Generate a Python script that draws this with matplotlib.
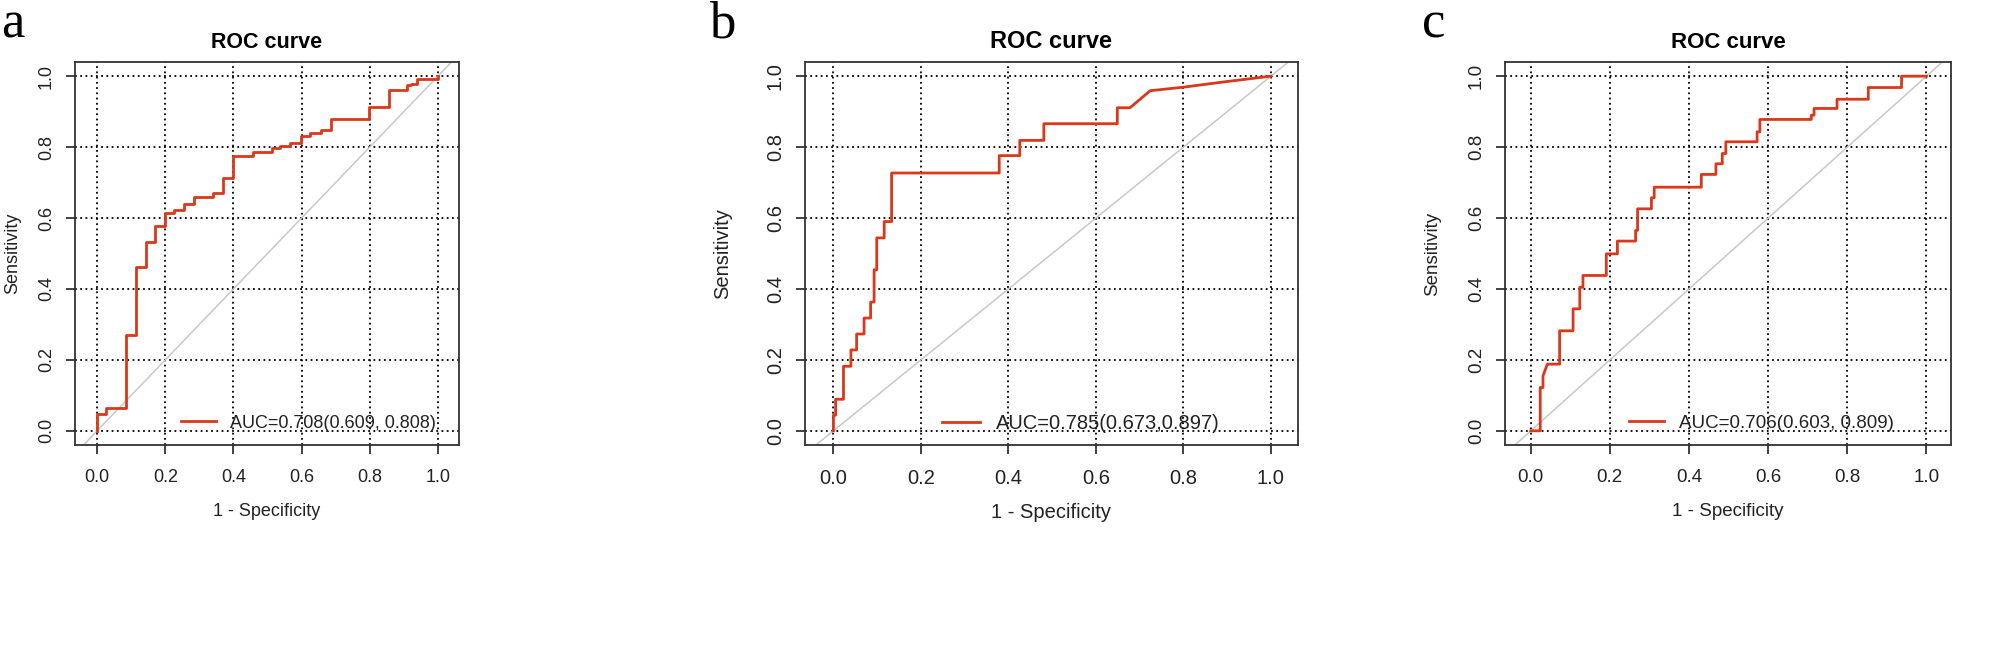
import matplotlib
matplotlib.use("Agg")
import matplotlib.pyplot as plt

plt.rcParams['font.family'] = ['Liberation Sans', 'DejaVu Sans']

# ROC points (1 - specificity, sensitivity)
fpr_a = [0.0, 0.0, 0.027, 0.027, 0.084, 0.084, 0.113, 0.113, 0.142, 0.142, 0.171, 0.171,
         0.198, 0.198, 0.226, 0.226, 0.256, 0.256, 0.285, 0.285, 0.341, 0.341, 0.369, 0.369,
         0.398, 0.398, 0.456, 0.456, 0.512, 0.512, 0.537, 0.537, 0.566, 0.566, 0.598, 0.598,
         0.626, 0.626, 0.656, 0.656, 0.685, 0.685, 0.798, 0.798, 0.856, 0.856, 0.910, 0.910,
         0.922, 0.922, 0.940, 0.940, 1.0, 1.0]
tpr_a = [0.0, 0.047, 0.047, 0.064, 0.064, 0.270, 0.270, 0.461, 0.461, 0.532, 0.532, 0.577,
         0.577, 0.614, 0.614, 0.623, 0.623, 0.640, 0.640, 0.659, 0.659, 0.670, 0.670, 0.714,
         0.714, 0.776, 0.776, 0.785, 0.785, 0.797, 0.797, 0.804, 0.804, 0.812, 0.812, 0.830,
         0.830, 0.841, 0.841, 0.847, 0.847, 0.878, 0.878, 0.913, 0.913, 0.960, 0.960, 0.975,
         0.975, 0.979, 0.979, 0.993, 0.993, 1.0]

fpr_b = [0.0, 0.0, 0.005, 0.005, 0.023, 0.023, 0.040, 0.040, 0.053, 0.053, 0.070, 0.070,
         0.085, 0.085, 0.093, 0.093, 0.099, 0.099, 0.116, 0.116, 0.133, 0.133, 0.379, 0.379,
         0.426, 0.426, 0.481, 0.481, 0.649, 0.649, 0.678, 0.724, 0.80, 0.90, 1.0]
tpr_b = [0.0, 0.044, 0.044, 0.089, 0.089, 0.182, 0.182, 0.228, 0.228, 0.273, 0.273, 0.318,
         0.318, 0.363, 0.363, 0.454, 0.454, 0.544, 0.544, 0.590, 0.590, 0.727, 0.727, 0.776,
         0.776, 0.819, 0.819, 0.866, 0.866, 0.911, 0.911, 0.959, 0.969, 0.985, 1.0]

fpr_c = [0.0, 0.024, 0.024, 0.031, 0.031, 0.036, 0.042, 0.073, 0.073, 0.107, 0.107, 0.124,
         0.124, 0.132, 0.132, 0.191, 0.191, 0.219, 0.219, 0.265, 0.265, 0.270, 0.270, 0.305,
         0.305, 0.312, 0.312, 0.431, 0.431, 0.468, 0.468, 0.484, 0.484, 0.493, 0.493, 0.572,
         0.572, 0.579, 0.579, 0.709, 0.709, 0.716, 0.716, 0.774, 0.774, 0.853, 0.853, 0.937,
         0.937, 1.0]
tpr_c = [0.0, 0.0, 0.122, 0.122, 0.155, 0.170, 0.188, 0.188, 0.282, 0.282, 0.344, 0.344,
         0.405, 0.405, 0.438, 0.438, 0.499, 0.499, 0.535, 0.535, 0.565, 0.565, 0.626, 0.626,
         0.657, 0.657, 0.687, 0.687, 0.723, 0.723, 0.753, 0.753, 0.782, 0.782, 0.815, 0.815,
         0.843, 0.843, 0.878, 0.878, 0.890, 0.890, 0.909, 0.909, 0.935, 0.935, 0.968, 0.968,
         1.0, 1.0]

auc_labels = ['AUC=0.708(0.609, 0.808)', 'AUC=0.785(0.673,0.897)', 'AUC=0.706(0.603, 0.809)']
panel_letters = ['a', 'b', 'c']
ticks = [0.0, 0.2, 0.4, 0.6, 0.8, 1.0]

W, H = 2008, 645
fig = plt.figure(figsize=(W / 100, H / 100), dpi=100)

# axes boxes in pixels: left, right (top 62, bottom 445)
boxes = [(75, 459), (805, 1298), (1505, 1951)]
ylab_x = [13, 723, 1433]
letter_x = [1, 709, 1422]
# the panels in the source are stretched differently, so text size differs a bit
txt_size = [13, 14.5, 13.5]
title_size = [15.5, 17, 16]
curves = [(fpr_a, tpr_a), (fpr_b, tpr_b), (fpr_c, tpr_c)]
red = '#d9381b'

for i in range(3):
    l, r = boxes[i]
    fs = txt_size[i]
    ax = fig.add_axes([l / W, 1 - 445 / H, (r - l) / W, (445 - 62) / H])
    ax.set_xlim(-0.065, 1.062)
    ax.set_ylim(-0.04, 1.04)
    for t in ticks:
        ax.axvline(t, color='black', ls=(0, (1, 1.9)), lw=1.3, zorder=1)
        ax.axhline(t, color='black', ls=(0, (1, 1.9)), lw=1.3, zorder=1)
    ax.axline((0, 0), (1, 1), color='#c8c8c8', lw=1.1, zorder=2)
    x, y = curves[i]
    ax.plot(x, y, color=red, lw=2.0, zorder=3, label=auc_labels[i])
    ax.legend(loc='center left', bbox_to_anchor=(0.277, 0.057), frameon=False,
              borderpad=0, borderaxespad=0, handlelength=1.9, handletextpad=0.8,
              fontsize=fs, labelcolor='#222222')
    ax.set_xticks(ticks)
    ax.set_yticks(ticks)
    ax.set_xticklabels(['%.1f' % t for t in ticks])
    ax.set_yticklabels(['%.1f' % t for t in ticks], rotation=90, va='center')
    ax.tick_params(direction='out', length=6.5, width=1.2, labelsize=fs,
                   colors='#222222')
    ax.tick_params(axis='x', pad=11)
    ax.tick_params(axis='y', pad=8)
    for s in ax.spines.values():
        s.set_linewidth(1.3)
        s.set_color('#333333')
    ax.set_title('ROC curve', fontsize=title_size[i], fontweight='bold', pad=10)
    ax.set_xlabel('1 - Specificity', fontsize=fs, color='#222222')
    ax.set_ylabel('Sensitivity', fontsize=fs, color='#222222')
    ax.xaxis.set_label_coords(0.5, -(512 - 445) / 383)
    ax.xaxis.label.set_va('center')
    ax.yaxis.set_label_coords(-(l - ylab_x[i]) / (r - l), 0.5)
    ax.yaxis.label.set_va('center')
    fig.text(letter_x[i] / W, 1 - 37 / H, panel_letters[i], fontsize=38,
             family=['Liberation Serif', 'DejaVu Serif'], ha='left', va='baseline')

fig.savefig('out.png', dpi=100)
